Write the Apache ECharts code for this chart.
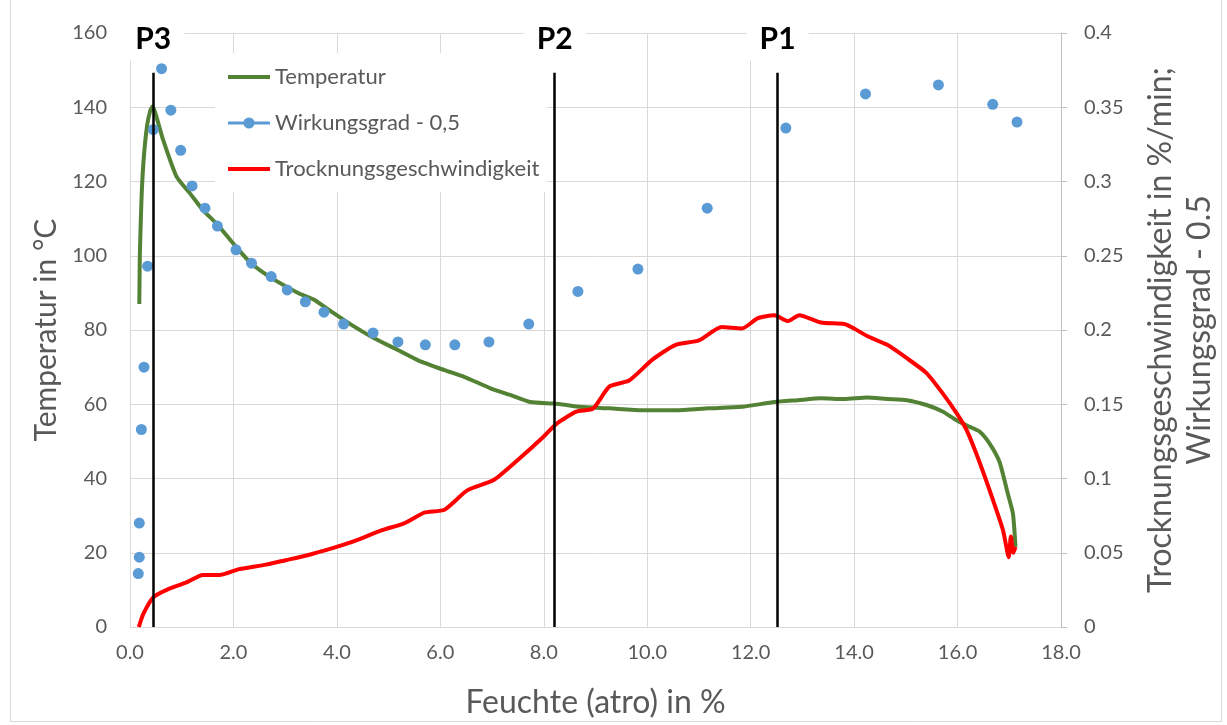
<!DOCTYPE html>
<html>
<head>
<meta charset="utf-8">
<script src="https://cdn.jsdelivr.net/npm/echarts@6/dist/echarts.min.js"></script>
<style>
  html, body { margin: 0; padding: 0; background: #fff; }
  #main { width: 1227px; height: 725px; }
</style>
</head>
<body>
<div id="main"></div>
<script>
// Temperatur (linke Achse, °C) ueber Feuchte (atro) in %
var tempX = [0.18, 0.19, 0.21, 0.23, 0.27, 0.33, 0.39, 0.44, 0.52, 0.64, 0.90, 1.16, 1.41, 1.67, 2.05, 2.34,
  2.75, 3.26, 3.55, 3.90, 4.29, 4.73, 5.18, 5.56, 6.08, 6.46, 6.97, 7.35, 7.74, 8.18, 8.44, 8.69,
  9.27, 9.91, 10.55, 11.19, 11.83, 12.46, 12.91, 13.36, 13.81, 14.25, 14.64, 15.02, 15.40, 15.72, 15.98,
  16.24, 16.43, 16.62, 16.81, 16.97, 17.07, 17.12];
var tempY = [87, 100, 110, 118, 127, 135, 139, 140.3, 137, 131.2, 121.3, 116.8, 112.3, 108.7, 102.4, 98,
  93.9, 89.9, 88.2, 84.9, 81.3, 77.7, 74.6, 71.9, 69.2, 67.4, 64.3, 62.5, 60.6, 60.2, 59.8, 59.3,
  58.9, 58.4, 58.4, 58.9, 59.3, 60.6, 61.1, 61.6, 61.4, 61.8, 61.4, 61.1, 59.8, 58, 55.7,
  53.9, 52.6, 49.4, 44.5, 36, 30.6, 21.6];

// Wirkungsgrad - 0,5 (rechte Achse)
var wirkX = [0.16, 0.18, 0.18, 0.22, 0.27, 0.34, 0.45, 0.61, 0.79, 0.98, 1.20, 1.45, 1.69, 2.05, 2.35, 2.73,
  3.04, 3.39, 3.75, 4.13, 4.70, 5.18, 5.71, 6.28, 6.94, 7.71, 8.66, 9.82, 11.16, 12.68, 14.22, 15.63, 16.68, 17.15];
var wirkY = [0.036, 0.047, 0.070, 0.133, 0.175, 0.243, 0.335, 0.376, 0.348, 0.321, 0.297, 0.282, 0.270, 0.254,
  0.245, 0.236, 0.227, 0.219, 0.212, 0.204, 0.198, 0.192, 0.190, 0.190, 0.192, 0.204, 0.226, 0.241, 0.282,
  0.336, 0.359, 0.365, 0.352, 0.340];

// Trocknungsgeschwindigkeit in %/min (rechte Achse)
var trockX = [0.17, 0.26, 0.45, 0.71, 1.09, 1.41, 1.73, 2.11, 2.63, 3.01, 3.39, 3.90, 4.35, 4.86, 5.31, 5.69,
  6.08, 6.52, 7.03, 7.48, 7.99, 8.25, 8.63, 8.95, 9.27, 9.65, 10.10, 10.55, 11.00, 11.44, 11.83, 12.14, 12.46,
  12.72, 12.94, 13.36, 13.81, 14.00, 14.25, 14.64, 15.02, 15.40, 15.72, 15.98, 16.17, 16.36, 16.55, 16.69,
  16.88, 16.99, 17.03, 17.08, 17.12];
var trockY = [0, 0.009, 0.020, 0.025, 0.030, 0.035, 0.035, 0.039, 0.042, 0.045, 0.048, 0.053, 0.058, 0.065,
  0.070, 0.077, 0.079, 0.092, 0.099, 0.112, 0.128, 0.137, 0.145, 0.147, 0.162, 0.166, 0.180, 0.190, 0.193,
  0.202, 0.201, 0.208, 0.210, 0.206, 0.210, 0.205, 0.204, 0.201, 0.196, 0.190, 0.181, 0.171, 0.157, 0.144,
  0.133, 0.117, 0.099, 0.085, 0.065, 0.047, 0.061, 0.050, 0.054];

// Phasengrenzen P1..P3 (Feuchte in %) und Hoehe der Linien (°C)
var phaseNames = ['P3', 'P2', 'P1'];
var phaseX = [0.45, 8.21, 12.52];
var phaseTop = 149.3;

var xTicks = { min: 0, max: 18, interval: 2 };
var leftTicks = { min: 0, max: 160, interval: 20 };
var rightTicks = { min: 0, max: 0.4, interval: 0.05 };

function pairs(xs, ys) {
  var out = [];
  for (var i = 0; i < xs.length; i++) out.push([xs[i], ys[i]]);
  return out;
}

var FONT = 'Lato';
var TXT = '#595959';
var GRID = '#d9d9d9';

var phaseLines = [];
for (var i = 0; i < phaseX.length; i++) {
  phaseLines.push([
    { coord: [phaseX[i], 0] },
    { coord: [phaseX[i], phaseTop], name: phaseNames[i] }
  ]);
}

var chart = echarts.init(document.getElementById('main'));
chart.setOption({
  animation: false,
  backgroundColor: '#fff',
  textStyle: { fontFamily: FONT },
  grid: { left: 130, right: 158, top: 33, bottom: 98 },
  graphic: [{
    type: 'rect', z: -10, silent: true,
    shape: { x: 10.5, y: -2, width: 1211, height: 723.5 },
    style: { fill: 'none', stroke: GRID, lineWidth: 1 }
  }],
  legend: {
    orient: 'vertical', left: 215, top: 53,
    padding: [11, 8, 10, 11],
    backgroundColor: '#fff',
    itemWidth: 42, itemHeight: 14, itemGap: 20,
    textStyle: { fontFamily: FONT, fontSize: 22, color: TXT, lineHeight: 26 },
    data: [
      { name: 'Temperatur', itemStyle: { opacity: 0 }, lineStyle: { width: 4 } },
      { name: 'Wirkungsgrad - 0,5', lineStyle: { opacity: 1, width: 3, color: '#5B9BD5' } },
      { name: 'Trocknungsgeschwindigkeit', itemStyle: { opacity: 0 }, lineStyle: { width: 4 } }
    ]
  },
  xAxis: {
    type: 'value', min: xTicks.min, max: xTicks.max, interval: xTicks.interval,
    name: 'Feuchte (atro) in %', nameLocation: 'middle', nameGap: 60,
    nameTextStyle: { fontFamily: FONT, fontSize: 32, color: TXT },
    axisLine: { show: true, lineStyle: { color: GRID } },
    axisTick: { show: false },
    splitLine: { lineStyle: { color: GRID } },
    axisLabel: { fontFamily: FONT, fontSize: 20, color: TXT, margin: 16,
      formatter: function (v) { return v.toFixed(1); } }
  },
  yAxis: [{
    type: 'value', position: 'left', min: leftTicks.min, max: leftTicks.max, interval: leftTicks.interval,
    name: 'Temperatur in °C', nameLocation: 'middle', nameRotate: 90, nameGap: 64,
    nameTextStyle: { fontFamily: FONT, fontSize: 30, color: TXT },
    axisLine: { show: true, lineStyle: { color: GRID } },
    axisTick: { show: false },
    splitLine: { lineStyle: { color: GRID } },
    axisLabel: { fontFamily: FONT, fontSize: 20, color: TXT, margin: 23 }
  }, {
    type: 'value', position: 'right', min: rightTicks.min, max: rightTicks.max, interval: rightTicks.interval,
    name: 'Trocknungsgeschwindigkeit in %/min;\nWirkungsgrad - 0.5', nameLocation: 'middle', nameRotate: 90, nameGap: 80,
    nameTextStyle: { fontFamily: FONT, fontSize: 32, color: TXT, lineHeight: 39 },
    axisLine: { show: true, lineStyle: { color: '#bfbfbf' } },
    axisTick: { show: true, length: 6, lineStyle: { color: '#bfbfbf' } },
    splitLine: { show: false },
    axisLabel: { fontFamily: FONT, fontSize: 20, color: TXT, margin: 23 }
  }],
  series: [{
    name: 'Temperatur', type: 'line', yAxisIndex: 0,
    data: pairs(tempX, tempY),
    showSymbol: false, symbol: 'none', smooth: 0.2,
    lineStyle: { color: '#548235', width: 4 },
    itemStyle: { color: '#548235' },
    z: 2,
    markLine: {
      silent: true, symbol: 'none', animation: false,
      lineStyle: { color: '#000', width: 2.5, type: 'solid' },
      label: {
        show: true, position: 'end', distance: 12,
        formatter: '{b}',
        fontFamily: FONT, fontWeight: 'bold', fontSize: 30, color: '#000',
        backgroundColor: '#fff', padding: [6, 13, 6, 13]
      },
      emphasis: { disabled: true },
      data: phaseLines
    }
  }, {
    name: 'Wirkungsgrad - 0,5', type: 'line', yAxisIndex: 1,
    data: pairs(wirkX, wirkY),
    symbol: 'circle', symbolSize: 11, showSymbol: true,
    lineStyle: { opacity: 0, width: 0 },
    itemStyle: { color: '#5B9BD5' },
    z: 3
  }, {
    name: 'Trocknungsgeschwindigkeit', type: 'line', yAxisIndex: 1,
    data: pairs(trockX, trockY),
    showSymbol: false, symbol: 'none', smooth: 0.2,
    lineStyle: { color: '#FF0000', width: 4 },
    itemStyle: { color: '#FF0000' },
    z: 4
  }]
});
</script>
</body>
</html>
